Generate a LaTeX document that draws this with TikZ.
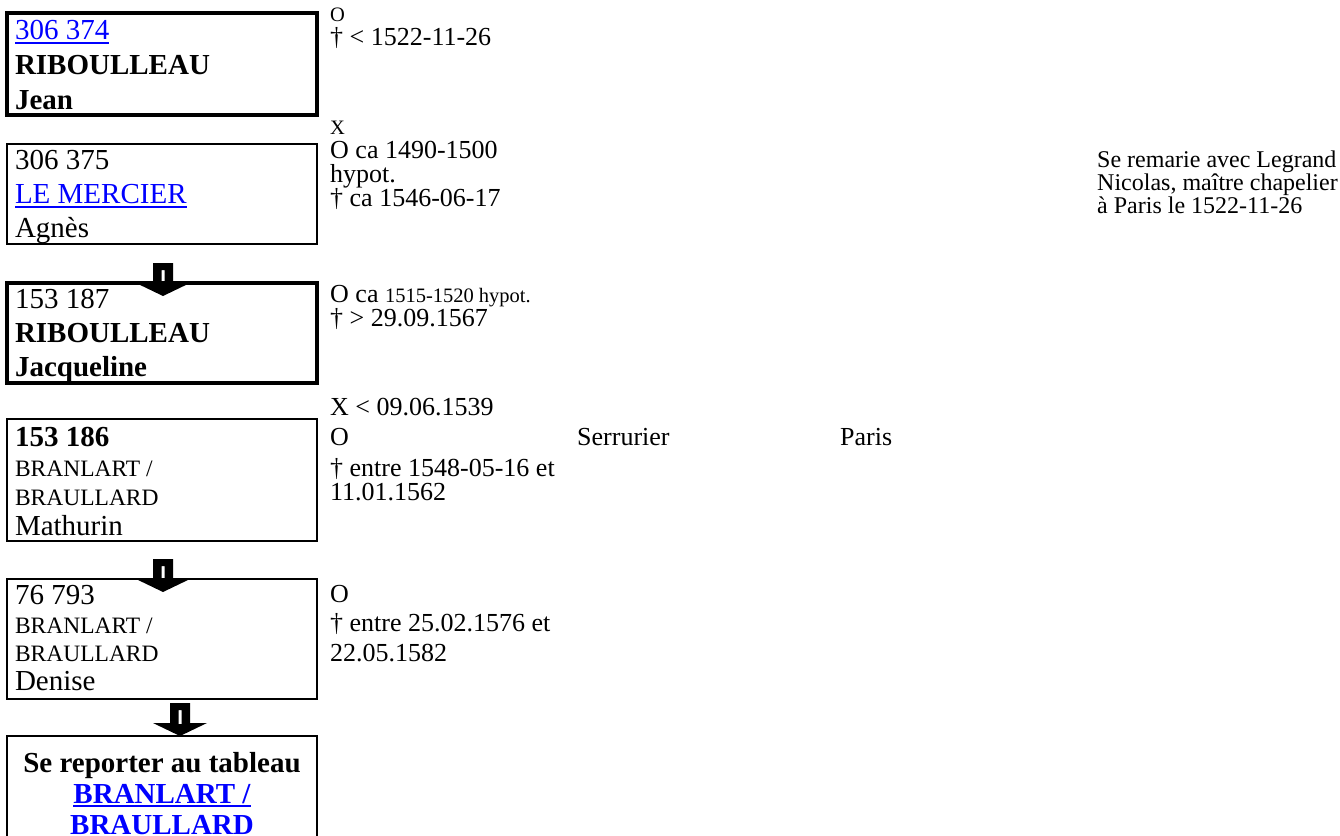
\documentclass[tikz,border=0pt]{standalone}
\usepackage{fontspec}
\setmainfont{Liberation Serif}
\usetikzlibrary{calc}
\definecolor{linkblue}{RGB}{0,0,255}
\newcommand{\lnk}[1]{\textcolor{linkblue}{\setbox0=\hbox{#1}\rlap{\rule[-4pt]{\wd0}{1.8pt}}\box0}}
\newcommand{\lnstrut}[1]{\rule{0pt}{#1}}
\newcommand{\boxfont}{\fontsize{29}{34}\selectfont}
\newcommand{\nomfont}{\fontsize{23.5}{28}\selectfont}
\newcommand{\petit}{\fontsize{20.5}{22}\selectfont}
\newcommand{\actefont}[1]{\fontsize{26}{#1}\selectfont\lineskiplimit=-20pt\relax}
\tikzset{tete/.store in=\tete, tete=25.5pt,
  famille/.style={draw, line width=2pt, outer sep=0pt, inner xsep=8pt, inner ysep=0pt, anchor=north west, font=\boxfont,
    execute at begin node={\begin{minipage}[c][#1][t]{294pt}\lnstrut{\tete}},
    execute at end node={\end{minipage}}},
  fort/.style={line width=3.5pt},
  acte/.style={anchor=north west, inner sep=0pt, align=left, font=\actefont{29.5}},
  metier/.style={anchor=base west, inner sep=0pt, font=\actefont{29.5}},
  famarrow/.style 2 args={to path={let \p1=($(\tikztotarget.north)+(#1,#2)$) in
    (\x1-10,\y1+20) -- (\x1+10,\y1+20) -- (\x1+10,\y1) -- (\x1+27,\y1) -- (\x1,\y1-13) -- (\x1-27,\y1) -- (\x1-10,\y1) -- cycle
    (\x1-1.5,\y1+13) rectangle (\x1+1.5,\y1-1)}}}

\begin{document}
\begin{tikzpicture}[x=1pt, y=-1pt]
    \useasboundingbox (0,0) rectangle (1340,835);
    % fiches
    \node[famille=102pt, fort, tete=26.5pt, font=\fontsize{29}{35}\selectfont] (b1) at (7,13) {\lnk{306 374}\\ \textbf{RIBOULLEAU}\\ \textbf{Jean}};
    \node[famille=100pt] (b2) at (7,144) {306 375\\ \lnk{LE MERCIER}\\ Agnès};
    \node[famille=100pt, fort] (b3) at (7,283) {153 187\\ \textbf{RIBOULLEAU}\\ \textbf{Jacqueline}};
    \node[famille=122pt, tete=27.5pt, font=\fontsize{29}{29.5}\selectfont] (b4) at (7,419) {\textbf{153 186}\\ {\nomfont BRANLART /}\\ {\nomfont BRAULLARD}\\ Mathurin};
    \node[famille=120pt, font=\fontsize{29}{28.5}\selectfont] (b5) at (7,579) {76 793\\ {\nomfont BRANLART /}\\ {\nomfont BRAULLARD}\\ Denise};
    \node[famille=130pt, tete=36pt, font=\fontsize{29}{31}\selectfont] (b6) at (7,736) {\centering\bfseries Se reporter au tableau\\ \lnk{BRANLART /}\\ \lnk{BRAULLARD}\par};

    % actes
    \node[acte, font=\actefont{24}] (r1) at (330,1) {\lnstrut{20pt}{\petit O}\\ † < 1522-11-26};
    \node[acte, font=\actefont{24}] (r2) at (330,114) {\lnstrut{20pt}{\petit X}\\ O ca 1490-1500\\ hypot.\\ † ca 1546-06-17};
    \node[acte, font=\actefont{24}] (r3) at (330,282) {\lnstrut{20pt}O ca {\petit 1515-1520 hypot.}\\ † > 29.09.1567};
    \node[acte, font=\actefont{30.5}] (r4) at (330,395) {\lnstrut{20pt}X < 09.06.1539\\ O\\ † entre 1548-05-16 et\\[-6pt] 11.01.1562};
    \node[metier] (r4m) at (577,445.5) {Serrurier};
    \node[metier] (r4l) at (840,445.5) {Paris};
    \node[acte, font=\actefont{29.5}] (r5) at (330,582) {\lnstrut{20pt}O\\ † entre 25.02.1576 et\\ 22.05.1582};
    \node[acte, font={\fontsize{24}{23}\selectfont\lineskiplimit=-20pt}] (n1) at (1097,147) {\lnstrut{20pt}Se remarie avec Legrand\\ Nicolas, maître chapelier\\ à Paris le 1522-11-26};

    \fill[even odd rule] (b2) to[famarrow={1}{0}] (b3)
          (b4) to[famarrow={1}{0}] (b5)
          (b5) to[famarrow={18}{-13}] (b6);
\end{tikzpicture}
\end{document}
